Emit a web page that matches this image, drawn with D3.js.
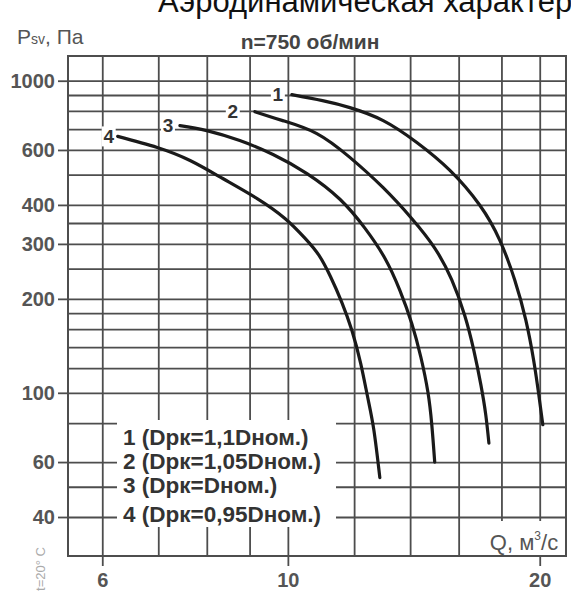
<!DOCTYPE html>
<html lang="ru">
  <head>
    <meta charset="UTF-8" />
    <title>Аэродинамическая характеристика</title>
    <script src="https://d3js.org/d3.v7.min.js"></script>
    <style>
      body { margin: 0; background: #fff; }
      svg { display: block; font-family: "Liberation Sans", Arial, sans-serif; }
    </style>
  </head>
  <body>
    <svg width="571" height="601"></svg>
    <script>
      // данные
      var qGrid = [6, 7, 8, 9, 10, 12, 14, 16, 18, 20];
      var pGrid = [1000, 900, 800, 700, 600, 500, 400, 350, 300, 250, 200, 180, 160, 140, 120, 100, 80, 60, 50, 40];
      var qTicks = [6, 10, 20];
      var pTicks = [1000, 600, 400, 300, 200, 100, 60, 40];
      var curveNames = ["1", "2", "3", "4"];
      var legendLabels = ["1 (Dpк=1,1Dном.)", "2 (Dpк=1,05Dном.)", "3 (Dpк=Dном.)", "4 (Dpк=0,95Dном.)"];

      var q1 = [10.11, 11.0, 11.86, 13.0, 14.26, 15.62, 16.96, 17.92, 18.67, 19.25, 19.67, 19.95, 20.17];
      var p1 = [902, 863, 820, 745, 634, 516, 399, 308, 230, 171, 127, 98.5, 79];
      var q2 = [9.13, 9.86, 10.83, 11.86, 12.99, 14.06, 14.98, 15.7, 16.27, 16.68, 17.01, 17.24, 17.39];
      var p2 = [796, 745, 677, 568, 455, 362, 291, 230, 177, 137, 106, 85, 69];
      var q3 = [7.43, 8.0, 8.76, 9.6, 10.54, 11.54, 12.36, 13.06, 13.61, 14.06, 14.42, 14.7, 14.86, 14.98];
      var p3 = [718, 692, 643, 580, 504, 417, 337, 270, 213, 167, 130, 100.7, 79, 60];
      var q4 = [6.26, 6.98, 7.64, 8.36, 9.18, 9.92, 10.48, 10.89, 11.25, 11.6, 11.93, 12.22, 12.46, 12.67, 12.88];
      var p4 = [663, 611, 555, 486, 420, 362, 313, 276, 235, 195, 158, 124, 96.4, 76, 53.5];

      var series = [[q1, p1], [q2, p2], [q3, p3], [q4, p4]].map(function (s) {
        return s[0].map(function (q, i) { return { q: q, p: s[1][i] }; });
      });

      var marge = { top: 56, left: 68, right: 5, bottom: 45 };
      var width = 571 - marge.left - marge.right;
      var height = 601 - marge.top - marge.bottom;
      var gridColor = "#4d4d4d";

      var x = d3.scaleLog().domain([5.46, 21.5]).range([0, width]);
      var y = d3.scaleLog().domain([30, 1200]).range([height, 0]);

      var svg = d3.select("svg");

      // заголовок (обрезан сверху, как на исходной картинке)
      svg.append("text").attr("x", 158).attr("y", 12)
        .attr("font-size", 31).attr("fill", "#111")
        .text("Аэродинамическая характеристика");

      var pLabel = svg.append("text").attr("x", 17).attr("y", 44)
        .attr("font-size", 21).attr("fill", "#555");
      pLabel.append("tspan").text("P");
      pLabel.append("tspan").attr("font-size", 14).text("sv");
      pLabel.append("tspan").text(", Па");

      svg.append("text").attr("x", 310).attr("y", 49)
        .attr("text-anchor", "middle").attr("font-size", 21)
        .attr("font-weight", "bold").attr("fill", "#444")
        .text("n=750 об/мин");

      svg.append("text")
        .attr("transform", "translate(45,547) rotate(-90)")
        .attr("text-anchor", "end").attr("font-size", 13)
        .attr("fill", "#aaa").text("t=20° C");

      var g = svg.append("g")
        .attr("transform", "translate(" + marge.left + "," + marge.top + ")");

      // сетка
      var gx = g.append("g").attr("transform", "translate(0," + height + ")")
        .call(d3.axisBottom(x).tickValues(qGrid).tickSize(-height).tickFormat(""));
      var gy = g.append("g")
        .call(d3.axisLeft(y).tickValues(pGrid).tickSize(-width).tickFormat(""));
      [gx, gy].forEach(function (a) {
        a.select(".domain").remove();
        a.selectAll("line").attr("stroke", gridColor).attr("stroke-width", 1.8);
      });

      g.append("rect").attr("width", width).attr("height", height)
        .attr("fill", "none").attr("stroke", gridColor).attr("stroke-width", 2);

      // оси с подписями
      var ax = g.append("g").attr("transform", "translate(0," + height + ")")
        .call(d3.axisBottom(x).tickValues(qTicks).tickSize(10).tickPadding(7).tickFormat(d3.format("d")));
      var ay = g.append("g")
        .call(d3.axisLeft(y).tickValues(pTicks).tickSize(10).tickPadding(3).tickFormat(d3.format("d")));
      [ax, ay].forEach(function (a) {
        a.select(".domain").remove();
        a.selectAll("line").attr("stroke", gridColor).attr("stroke-width", 1.8);
        a.selectAll("text").attr("font-size", 20).attr("font-weight", "bold")
          .attr("fill", "#555").attr("font-family", "Liberation Sans, Arial, sans-serif");
      });

      // легенда на белом фоне
      g.append("rect").attr("x", 117 - marge.left).attr("y", 420 - marge.top)
        .attr("width", 219).attr("height", 107).attr("fill", "#fff");
      var legendY = [437, 461, 485, 514];
      g.selectAll(".leg").data(legendLabels).enter().append("text")
        .attr("class", "leg")
        .attr("x", 123 - marge.left)
        .attr("y", function (d, i) { return legendY[i] - marge.top; })
        .attr("dy", "0.35em")
        .attr("font-size", 22.5).attr("font-weight", "bold").attr("fill", "#333")
        .text(function (d) { return d; });

      // подпись оси Q
      g.append("rect").attr("x", 484 - marge.left).attr("y", 521 - marge.top)
        .attr("width", 81).attr("height", 34).attr("fill", "#fff");
      var qLabel = g.append("text").attr("x", 524 - marge.left).attr("y", 550 - marge.top)
        .attr("text-anchor", "middle").attr("font-size", 22).attr("fill", "#555");
      qLabel.append("tspan").text("Q, м");
      qLabel.append("tspan").attr("font-size", 12).attr("dy", -10).text("3");
      qLabel.append("tspan").attr("dy", 10).text("/с");

      // кривые
      var line = d3.line()
        .x(function (d) { return x(d.q); })
        .y(function (d) { return y(d.p); })
        .curve(d3.curveNatural);

      g.selectAll(".curve").data(series).enter().append("path")
        .attr("class", "curve")
        .attr("d", line)
        .attr("fill", "none").attr("stroke", "#1a1a1a").attr("stroke-width", 3.2)
        .attr("stroke-linecap", "round");

      var labelDx = [-14, -22, -12, -9];
      var lab = g.selectAll(".clab").data(series).enter().append("g")
        .attr("class", "clab")
        .attr("transform", function (d, i) {
          return "translate(" + (x(d[0].q) + labelDx[i]) + "," + y(d[0].p) + ")";
        });
      lab.append("rect").attr("x", -7).attr("y", -10).attr("width", 14).attr("height", 20).attr("fill", "#fff");
      lab.append("text").attr("text-anchor", "middle").attr("dy", "0.35em")
        .attr("font-size", 19).attr("font-weight", "bold").attr("fill", "#333")
        .text(function (d, i) { return curveNames[i]; });
    </script>
  </body>
</html>
